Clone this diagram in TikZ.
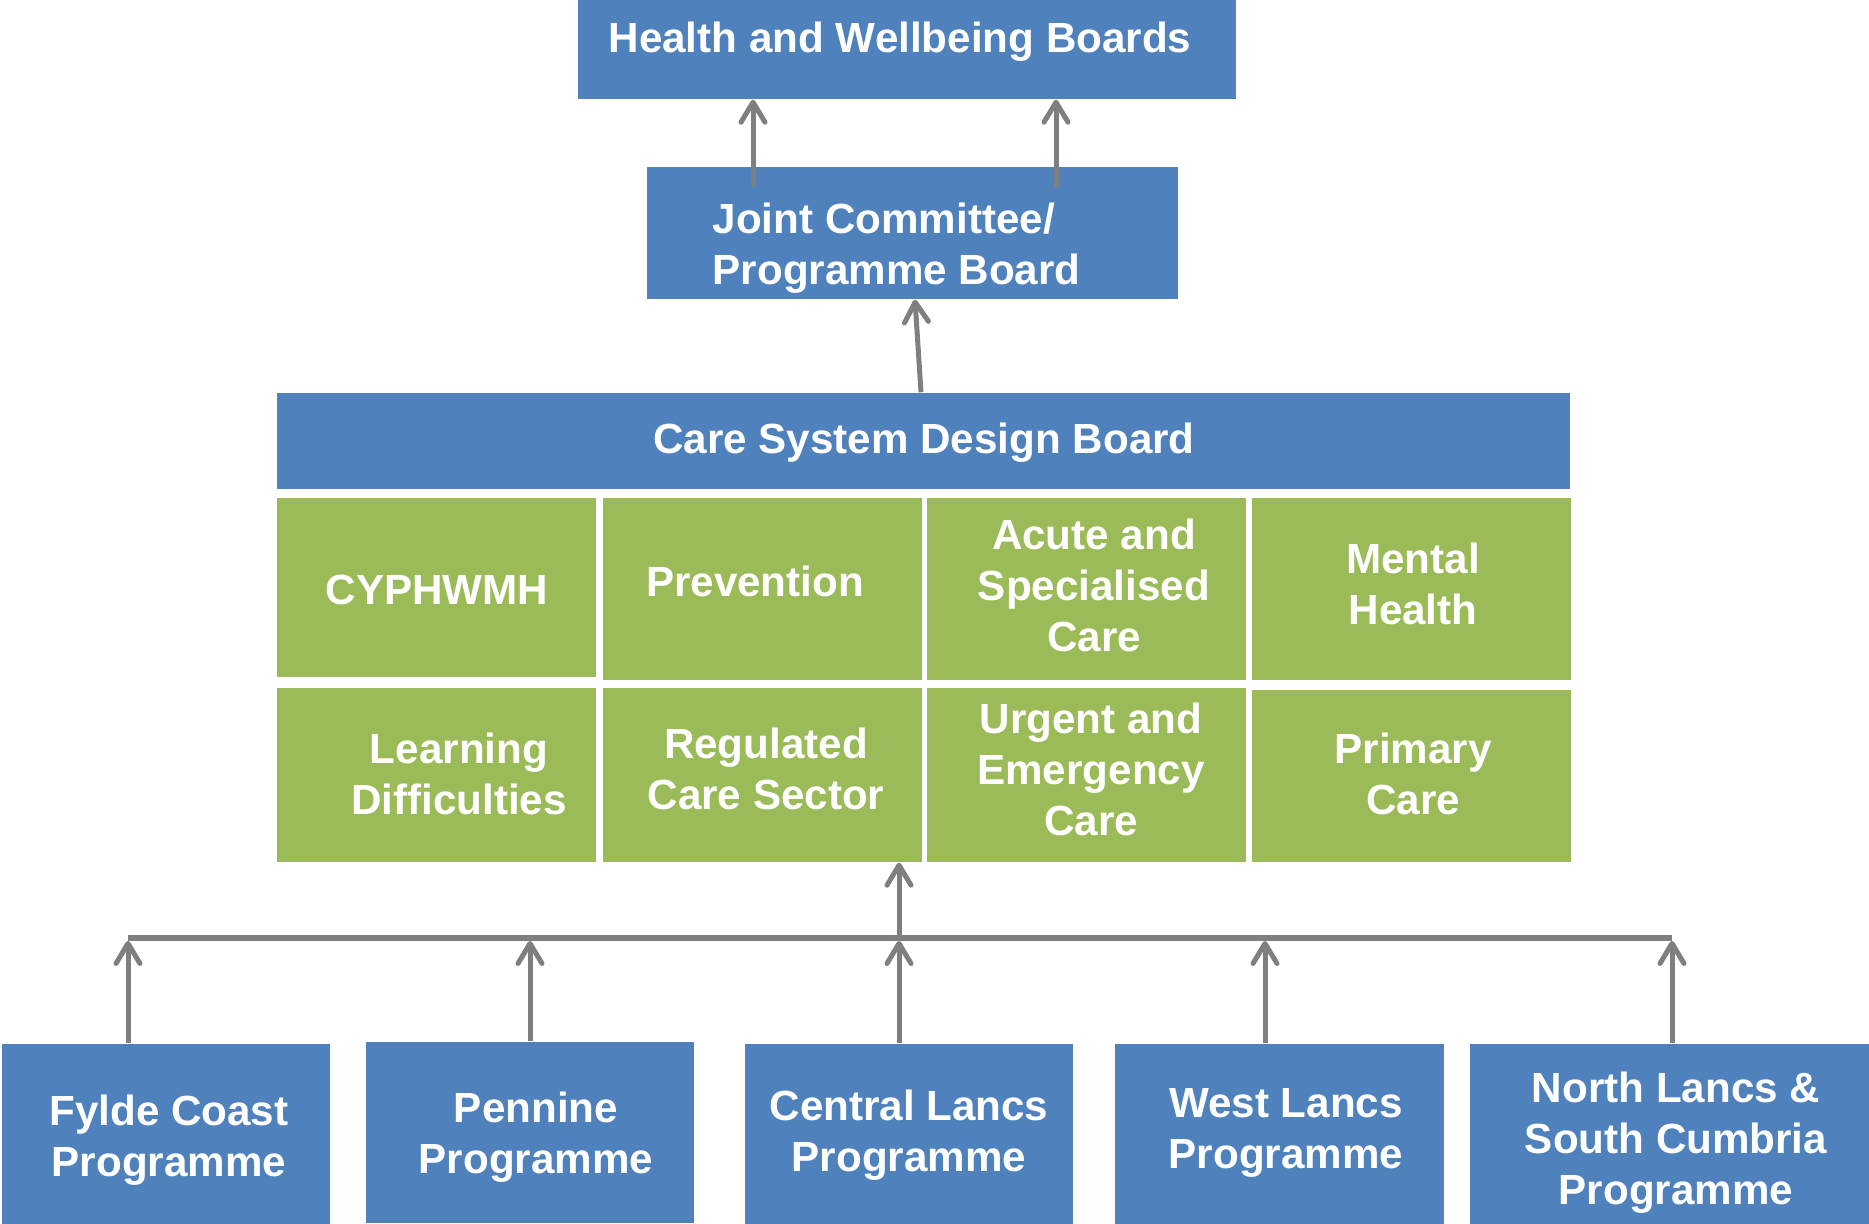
\documentclass[tikz,border=0pt]{standalone}
\usepackage{fontspec}
\setmainfont{Liberation Sans}
\usetikzlibrary{arrows.meta}
\definecolor{boardblue}{HTML}{4F81BD}
\definecolor{streamgreen}{HTML}{9BBB59}
\definecolor{linkgray}{HTML}{7F7F7F}

\begin{document}
\begin{tikzpicture}[x=0.1mm, y=0.1mm,
    board/.style = {fill=boardblue, inner sep=0pt},
    stream/.style = {fill=streamgreen, inner sep=0pt, minimum width=31.9mm},
    lbl/.style = {text=white, font=\fontsize{12}{14.5}\selectfont\bfseries, align=center, inner sep=0pt},
    link/.style = {draw=linkgray, line width=0.5mm, -{Straight Barb[length=2mm, width=2.4mm, round]}}]

    \useasboundingbox (0,0) rectangle (1869,1224);

    % boards
    \node[board, minimum width=65.8mm, minimum height=9.9mm] (hwb) at (907,1174.5) {};
    \node[lbl] (hwbtxt) at (900,1182) {Health and Wellbeing Boards};
    \node[board, minimum width=53.1mm, minimum height=13.2mm] (joint) at (912.5,991) {};
    \node[lbl, anchor=west, align=left] (jointtxt) at (712,975.5) {Joint Committee/\\Programme Board};
    \node[board, minimum width=129.3mm, minimum height=9.6mm] (csdb) at (923.5,783) {};
    \node[lbl] (csdbtxt) at (924,781) {Care System Design Board};

    % work streams
    \node[stream, minimum height=17.9mm] (cyp) at (436.5,636.5) {};
    \node[stream, minimum height=18.2mm] (prev) at (762.5,635) {};
    \node[stream, minimum height=18.2mm] (acute) at (1086.5,635) {};
    \node[stream, minimum height=18.2mm] (mental) at (1411,635) {};
    \node[stream, minimum height=17.4mm] (learn) at (436.5,449) {};
    \node[stream, minimum height=17.4mm] (reg) at (762.5,449) {};
    \node[stream, minimum height=17.4mm] (urgent) at (1086.5,449) {};
    \node[stream, minimum height=17.2mm] (primary) at (1411,448) {};
    \node[lbl] (cyptxt) at (437,634) {CYPHWMH};
    \node[lbl] (prevtxt) at (755,643) {Prevention};
    \node[lbl] (acutetxt) at (1094,638.5) {Acute and\\Specialised\\Care};
    \node[lbl] (mentaltxt) at (1413,640.5) {Mental\\Health};
    \node[lbl] (learntxt) at (459,450.5) {Learning\\Difficulties};
    \node[lbl] (regtxt) at (766,455) {Regulated\\Care Sector};
    \node[lbl] (urgenttxt) at (1091,454.5) {Urgent and\\Emergency\\Care};
    \node[lbl] (primarytxt) at (1413,450.5) {Primary\\Care};

    % local programmes
    \node[board, minimum width=32.8mm, minimum height=18mm] (fylde) at (166,90) {};
    \node[board, minimum width=32.8mm, minimum height=18.1mm] (pennine) at (530,91.5) {};
    \node[board, minimum width=32.8mm, minimum height=18mm] (central) at (909,90) {};
    \node[board, minimum width=32.9mm, minimum height=18mm] (west) at (1279.5,90) {};
    \node[board, minimum width=39.9mm, minimum height=18mm] (north) at (1669.5,90) {};
    \node[lbl] (fyldetxt) at (169,84) {Fylde Coast\\Programme};
    \node[lbl] (penninetxt) at (536,86.5) {Pennine\\Programme};
    \node[lbl] (centraltxt) at (909,88.5) {Central Lancs\\Programme};
    \node[lbl] (westtxt) at (1286,91.5) {West Lancs\\Programme};
    \node[lbl] (northtxt) at (1676,81.5) {North Lancs \&\\South Cumbria\\Programme};

    % links
    \coordinate (busL) at (128,286);
    \coordinate (busR) at (1672,286);
    \draw[linkgray, line width=0.6mm] (busL) -- (busR);
    \draw[link, shorten >=0.3mm] ([xshift=-3.8mm]fylde.north) -- ([xshift=-3.8mm]fylde.north |- busL);
    \draw[link, shorten >=0.3mm] (pennine.north) -- (pennine.north |- busL);
    \draw[link, shorten >=0.3mm] ([xshift=-1mm]central.north) -- ([xshift=-1mm]central.north |- busL);
    \draw[link, shorten >=0.3mm] ([xshift=-1.45mm]west.north) -- ([xshift=-1.45mm]west.north |- busL);
    \draw[link, shorten >=0.3mm] ([xshift=0.25mm]north.north) -- ([xshift=0.25mm]north.north |- busL);
    \draw[link] ([xshift=13.65mm]reg.south |- busL) -- ([xshift=13.65mm]reg.south);
    \draw[link] ([xshift=-0.25mm]csdb.north) -- ([xshift=0.25mm]joint.south);
    \draw[link] ([xshift=-15.95mm, yshift=-2.1mm]joint.north) -- ([xshift=-15.95mm]joint.north |- hwb.south);
    \draw[link] ([xshift=14.35mm, yshift=-2.1mm]joint.north) -- ([xshift=14.35mm]joint.north |- hwb.south);

\end{tikzpicture}
\end{document}
